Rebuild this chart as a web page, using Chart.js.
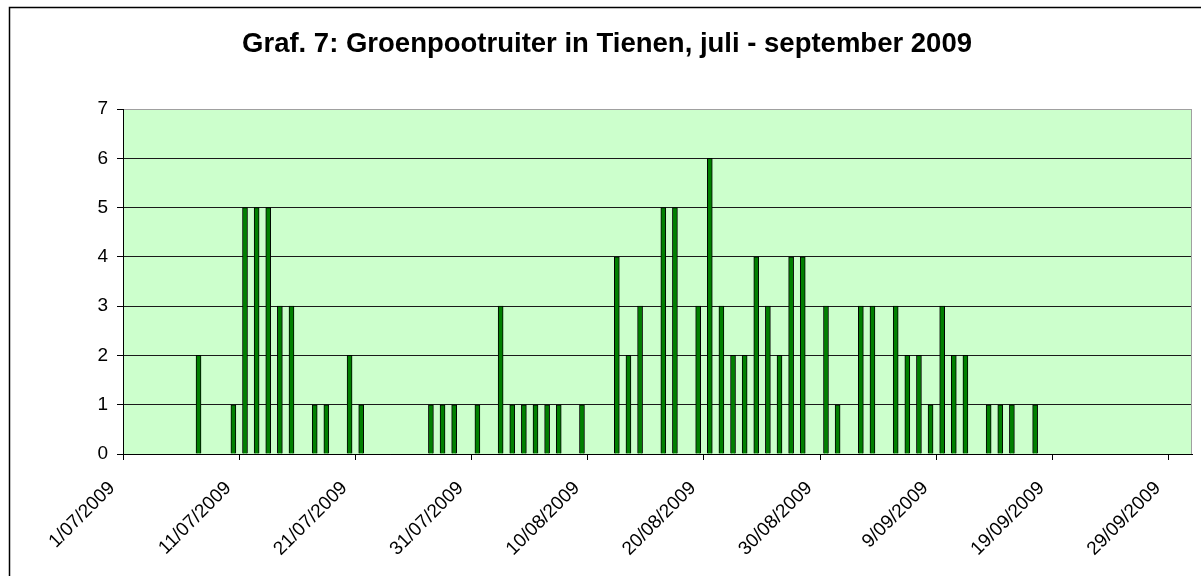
<!DOCTYPE html>
<html>
<head>
<meta charset="utf-8">
<title>Groenpootruiter in Tienen 2009</title>
<script src="https://cdn.jsdelivr.net/npm/chart.js@4.4.1/dist/chart.umd.min.js"></script>
<style>
  html, body { margin: 0; padding: 0; background: #fff; }
</style>
</head>
<body>
<canvas id="grafiek" width="1201" height="576"></canvas>
<script>
// waarnemingsdagen en aantallen
const datums = [
  "7/07/2009", "10/07/2009", "11/07/2009", "12/07/2009", "13/07/2009", "14/07/2009", "15/07/2009",
  "17/07/2009", "18/07/2009", "20/07/2009", "21/07/2009", "27/07/2009", "28/07/2009", "29/07/2009",
  "31/07/2009", "2/08/2009", "3/08/2009", "4/08/2009", "5/08/2009", "6/08/2009", "7/08/2009",
  "9/08/2009", "12/08/2009", "13/08/2009", "14/08/2009", "16/08/2009", "17/08/2009", "19/08/2009",
  "20/08/2009", "21/08/2009", "22/08/2009", "23/08/2009", "24/08/2009", "25/08/2009", "26/08/2009",
  "27/08/2009", "28/08/2009", "30/08/2009", "31/08/2009", "2/09/2009", "3/09/2009", "5/09/2009",
  "6/09/2009", "7/09/2009", "8/09/2009", "9/09/2009", "10/09/2009", "11/09/2009", "13/09/2009",
  "14/09/2009", "15/09/2009", "17/09/2009"
];
const aantallen = [
  2, 1, 5, 5, 5, 3, 3,
  1, 1, 2, 1, 1, 1, 1,
  1, 3, 1, 1, 1, 1, 1,
  1, 4, 2, 3, 5, 5, 3,
  6, 3, 2, 2, 4, 3, 2,
  4, 4, 3, 1, 3, 3, 3,
  2, 2, 1, 3, 2, 2, 1,
  1, 1, 1
];
const asLabels = [
  "1/07/2009", "11/07/2009", "21/07/2009", "31/07/2009", "10/08/2009",
  "20/08/2009", "30/08/2009", "9/09/2009", "19/09/2009", "29/09/2009"
];

const lettertype = "'Liberation Sans', Arial, sans-serif";

// aantal dagen sinds 1 juli 2009
function dagNummer(datum) {
  const [d, m, j] = datum.split("/").map(Number);
  return (Date.UTC(j, m - 1, d) - Date.UTC(2009, 6, 1)) / 86400000;
}

const achtergrond = {
  id: "achtergrond",
  beforeDraw(chart) {
    const { ctx, chartArea: a } = chart;
    ctx.save();
    ctx.fillStyle = "#ffffff";
    ctx.fillRect(0, 0, chart.width, chart.height);
    ctx.fillStyle = "#CCFFCC";
    ctx.fillRect(a.left, a.top, a.right - a.left, a.bottom - a.top);
    // kader rond de grafiek
    ctx.strokeStyle = "#000";
    ctx.lineWidth = 1.5;
    ctx.beginPath();
    ctx.moveTo(9.5, chart.height);
    ctx.lineTo(9.5, 7.5);
    ctx.lineTo(chart.width, 7.5);
    ctx.stroke();
    ctx.restore();
  },
  afterDraw(chart) {
    const { ctx, chartArea: a } = chart;
    ctx.save();
    ctx.strokeStyle = "#a0a0a0";
    ctx.lineWidth = 1;
    ctx.beginPath();
    ctx.moveTo(a.right - 0.5, a.top);
    ctx.lineTo(a.right - 0.5, a.bottom);
    ctx.stroke();
    ctx.restore();
  }
};

new Chart(document.getElementById("grafiek"), {
  type: "bar",
  data: {
    datasets: [{
      label: "Groenpootruiter",
      data: datums.map((d, i) => ({ x: dagNummer(d) + 0.5, y: aantallen[i] })),
      backgroundColor: "#008000",
      borderColor: "#000000",
      borderWidth: 1,
      barThickness: 5
    }]
  },
  options: {
    responsive: false,
    animation: false,
    layout: { padding: { left: 22, right: 9, top: 0, bottom: 0 } },
    plugins: {
      legend: { display: false },
      tooltip: { enabled: false },
      title: {
        display: true,
        text: "Graf. 7: Groenpootruiter in Tienen, juli - september 2009",
        color: "#000",
        font: { family: lettertype, size: 27.5, weight: "bold" },
        padding: { top: 28, bottom: 48 }
      }
    },
    scales: {
      x: {
        type: "linear",
        offset: false,
        min: 0,
        max: 92,
        afterBuildTicks: s => { s.ticks = asLabels.map((_, i) => ({ value: i * 10 })); },
        afterFit: s => { s.height = 122; s.paddingLeft = 0; s.paddingRight = 0; },
        ticks: {
          color: "#000",
          font: { family: lettertype, size: 19 },
          minRotation: 45,
          maxRotation: 45,
          autoSkip: false,
          padding: 17,
          labelOffset: -11,
          callback: v => asLabels[v / 10] ?? ""
        },
        grid: { offset: false, drawOnChartArea: false, tickLength: 6, tickColor: "#000" },
        border: { color: "#000" }
      },
      y: {
        min: 0,
        max: 7,
        afterFit: s => { s.width = 101; },
        ticks: {
          stepSize: 1,
          color: "#000",
          font: { family: lettertype, size: 19 },
          padding: 9
        },
        grid: {
          color: c => (c.tick && c.tick.value === 7 ? "#a0a0a0" : "#1a1a1a"),
          tickColor: "#000",
          tickLength: 6
        },
        border: { color: "#000" }
      }
    }
  },
  plugins: [achtergrond]
});
</script>
</body>
</html>
